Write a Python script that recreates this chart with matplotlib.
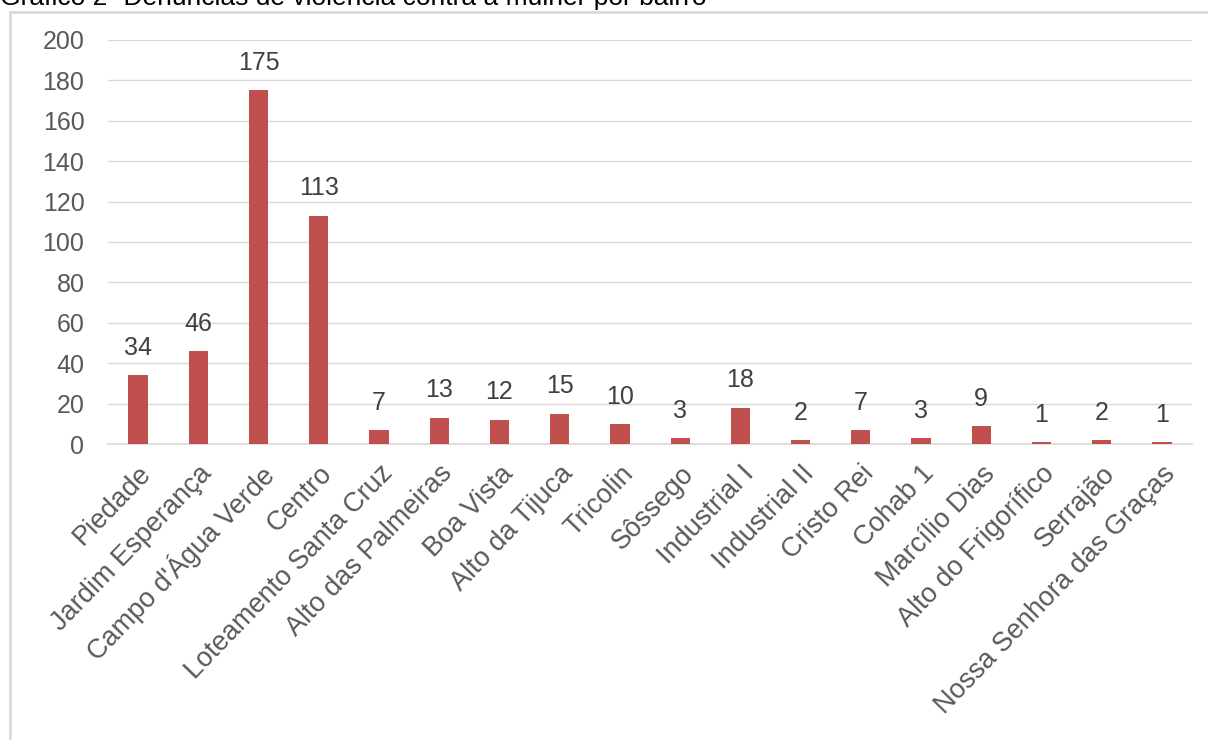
import matplotlib.pyplot as plt
from matplotlib.patches import Rectangle

# Denúncias por bairro
bairros = [
    "Piedade", "Jardim Esperança", "Campo d'Água Verde", "Centro",
    "Loteamento Santa Cruz", "Alto das Palmeiras", "Boa Vista",
    "Alto da Tijuca", "Tricolin", "Sôssego", "Industrial I",
    "Industrial II", "Cristo Rei", "Cohab 1", "Marcílio Dias",
    "Alto do Frigorífico", "Serrajão", "Nossa Senhora das Graças",
]
denuncias = [34, 46, 175, 113, 7, 13, 12, 15, 10, 3, 18, 2, 7, 3, 9, 1, 2, 1]
y_ticks = list(range(0, 201, 20))

plt.rcParams["font.family"] = ["Liberation Sans", "DejaVu Sans"]
fs = 18

fig = plt.figure(figsize=(12.08, 7.40), dpi=100)
ax = fig.add_axes([0.0894, 0.40, 0.8974, 0.546])

x = range(len(bairros))
bars = ax.bar(x, denuncias, width=0.32, color="#c0504d", zorder=3)

for b, v in zip(bars, denuncias):
    ax.annotate(str(v), (b.get_x() + b.get_width() / 2, v),
                xytext=(0, 11), textcoords="offset points",
                ha="center", va="bottom", fontsize=fs, color="#404040")

ax.set_xlim(-0.5, len(bairros) - 0.5)
ax.set_ylim(0, 200)
ax.set_yticks(y_ticks)
ax.set_yticklabels([str(t) for t in y_ticks], fontsize=fs, color="#595959")
ax.set_xticks(list(x))
ax.set_xticklabels(bairros, rotation=46, ha="right", va="top",
                   rotation_mode="anchor", fontsize=19.5, color="#595959")
ax.tick_params(axis="both", length=0)
ax.tick_params(axis="y", pad=17)
ax.tick_params(axis="x", pad=12)

ax.grid(axis="y", color="#d9d9d9", linewidth=1, zorder=0)
for s in ["top", "right", "left"]:
    ax.spines[s].set_visible(False)
ax.spines["bottom"].set_color("#d9d9d9")
ax.spines["bottom"].set_linewidth(1.2)

# moldura do gráfico
fig.patches.append(Rectangle((10 / 1208, -0.02), 1.1, 1 - 12 / 740 + 0.02,
                             transform=fig.transFigure, fill=False,
                             edgecolor="#d9d9d9", linewidth=2, zorder=0))

fig.text(0.0, 1 - 5 / 740, "Gráfico 2- Denúncias de violência contra a mulher por bairro",
         ha="left", va="baseline", fontsize=19, color="black")

fig.savefig("out.png", dpi=100)
